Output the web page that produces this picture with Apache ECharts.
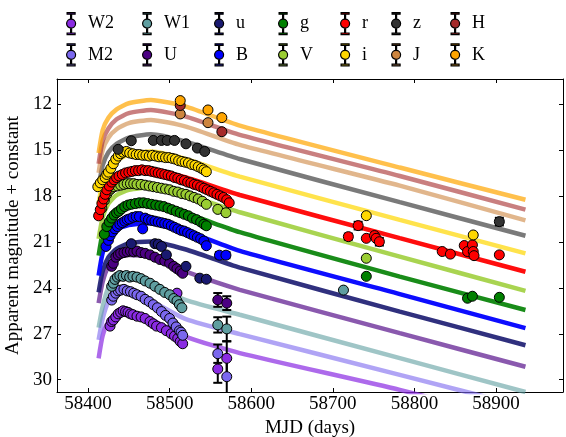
<!DOCTYPE html>
<html>
<head>
<meta charset="utf-8">
<script src="https://cdn.jsdelivr.net/npm/echarts@6/dist/echarts.min.js"></script>
<style>
  html, body { margin: 0; padding: 0; background: #fff; }
  #main { width: 566px; height: 437px; }
</style>
</head>
<body>
<div id="main"></div>
<script>
// bands in plotting order (last drawn on top)
const bands = ['W2', 'M2', 'W1', 'U', 'u', 'B', 'g', 'V', 'r', 'i', 'z', 'J', 'H', 'K']
const bandColors = {
  W2: '#8a2be2', M2: '#7b68ee', W1: '#5f9ea0', U: '#4b0082', u: '#191970', B: '#0000ff', g: '#008000',
  V: '#9acd32', r: '#ff0000', i: '#ffd700', z: '#333333', J: '#cd853f', H: '#a52a2a', K: '#ffa500'
}
// legend columns (two rows)
const legendCols = [['W2', 'M2'], ['W1', 'U'], ['u', 'B'], ['g', 'V'], ['r', 'i'], ['z', 'J'], ['H', 'K']]

// axis ticks
const xTicks = [58400, 58500, 58600, 58700, 58800, 58900]
const yTicks = [12, 15, 18, 21, 24, 27, 30]

// model light curves: MJD grid and magnitudes per band
const modelDays = [58413, 58418, 58425, 58435, 58450, 58477, 58520, 58586, 58782, 58936]
const modelK = [15.2, 13.7, 12.9, 12.35, 11.95, 11.74, 12.17, 13.41, 16.15, 18.25]
const modelH = [15.9, 14.4, 13.6, 13.0, 12.6, 12.39, 12.83, 14.02, 16.70, 18.90]
const modelJ = [16.5, 15.0, 14.2, 13.65, 13.25, 13.04, 13.48, 14.67, 17.33, 19.60]
const modelz = [17.4, 16.0, 15.15, 14.6, 14.2, 13.98, 14.46, 15.59, 18.41, 20.60]
const modeli = [18.5, 17.1, 16.3, 15.7, 15.3, 15.11, 15.6, 16.74, 19.57, 21.75]
const modelr = [19.6, 18.3, 17.4, 16.85, 16.5, 16.31, 16.8, 17.94, 20.76, 22.95]
const modelV = [20.8, 19.4, 18.5, 17.95, 17.6, 17.44, 17.92, 19.07, 21.96, 24.20]
const modelg = [21.9, 20.4, 19.5, 19.0, 18.72, 18.62, 19.15, 20.37, 23.27, 25.45]
const modelB = [23.2, 21.7, 20.8, 20.2, 19.9, 19.78, 20.3, 21.59, 24.41, 26.63]
const modelu = [24.3, 22.9, 22.0, 21.45, 21.1, 20.97, 21.5, 22.68, 25.55, 27.75]
const modelU = [25.0, 23.6, 22.6, 22.05, 21.85, 22.0, 22.95, 24.13, 26.96, 29.15]
const modelW1 = [26.6, 25.2, 24.0, 23.45, 23.35, 23.75, 24.8, 25.76, 28.59, 30.80]
const modelM2 = [27.4, 26.0, 24.9, 24.35, 24.3, 24.85, 26.05, 27.02, 29.68, 31.78]
const modelW2 = [28.6, 27.1, 26.2, 25.7, 25.6, 26.05, 27.2, 28.26, 30.66, 32.77]

// observations: [MJD, mag, (error)]
const obsW2 = [[58427, 26.5], [58429, 26.2], [58431, 26.1], [58434, 25.9], [58437, 25.7], [58440, 25.6], [58443, 25.5],
  [58446, 25.55], [58449, 25.6], [58452, 25.7], [58455, 25.75], [58460, 25.85], [58465, 25.9], [58470, 26.0],
  [58476, 26.2], [58480, 26.35], [58484, 26.5], [58490, 26.6], [58496, 26.8], [58502, 27.0], [58506, 27.15],
  [58510, 27.3], [58513, 27.5], [58516, 27.65], [58509, 24.35], [58559, 29.3, 0.9], [58570, 28.6, 1.1]]
const obsM2 = [[58429, 24.8], [58431, 24.55], [58434, 24.35], [58437, 24.2], [58440, 24.15], [58444, 24.1],
  [58448, 24.2], [58452, 24.25], [58456, 24.35], [58460, 24.45], [58465, 24.55], [58470, 24.75], [58475, 24.9],
  [58480, 25.1], [58485, 25.3], [58490, 25.55], [58495, 25.8], [58500, 26.0], [58504, 26.3], [58508, 26.55],
  [58512, 26.8], [58514, 26.9], [58516, 27.1], [58559, 28.3, 0.6], [58570, 29.8, 1.2]]
const obsW1 = [[58429, 23.9], [58431, 23.7], [58433, 23.45], [58436, 23.3], [58439, 23.2], [58443, 23.25],
  [58447, 23.2], [58451, 23.3], [58455, 23.25], [58460, 23.3], [58465, 23.4], [58470, 23.55], [58476, 23.7],
  [58482, 23.9], [58488, 24.1], [58494, 24.3], [58500, 24.45], [58505, 24.7], [58509, 24.85], [58512, 25.1],
  [58515, 25.3], [58559, 26.42, 0.5], [58570, 26.68, 0.8], [58713, 24.15]]
const obsU = [[58429, 22.6], [58431, 22.4], [58434, 22.0], [58437, 21.85], [58440, 21.75], [58444, 21.7],
  [58448, 21.65], [58452, 21.6], [58456, 21.65], [58460, 21.6], [58465, 21.7], [58470, 21.75], [58476, 21.85],
  [58482, 22.0], [58488, 22.15], [58494, 22.25], [58500, 22.4], [58505, 22.6], [58509, 22.75], [58513, 22.9],
  [58516, 23.05], [58559, 24.79, 0.45], [58570, 25.0, 0.45]]
const obsu = [[58453, 21.12], [58482, 21.12], [58486, 21.15], [58490, 21.3], [58496, 21.85], [58520, 22.6],
  [58537, 23.37], [58545, 23.44]]
const obsB = [[58422, 21.3], [58425, 20.9], [58427, 20.6], [58430, 20.35], [58433, 20.15], [58436, 20.0],
  [58439, 19.85], [58442, 19.75], [58445, 19.65], [58448, 19.55], [58451, 19.5], [58455, 19.4], [58459, 19.35],
  [58463, 19.35], [58467, 20.15], [58470, 19.45], [58474, 19.55], [58478, 19.6], [58482, 19.65], [58486, 19.7],
  [58490, 19.75], [58494, 19.8], [58498, 19.85], [58502, 19.95], [58506, 20.05], [58510, 20.15], [58514, 20.25],
  [58518, 20.3], [58522, 20.4], [58526, 20.5], [58530, 20.6], [58534, 20.7], [58538, 20.8], [58542, 20.95],
  [58545, 21.25], [58561, 21.87, 0.2], [58569, 21.87, 0.2]]
const obsg = [[58420, 20.5], [58423, 20.0], [58426, 19.7], [58429, 19.45], [58432, 19.25], [58435, 19.1],
  [58438, 19.0], [58441, 18.85], [58445, 18.7], [58449, 18.6], [58453, 18.55], [58458, 18.5], [58463, 18.45],
  [58468, 18.45], [58473, 18.5], [58478, 18.55], [58483, 18.6], [58488, 18.65], [58493, 18.7], [58498, 18.8],
  [58503, 18.9], [58508, 19.0], [58513, 19.1], [58518, 19.2], [58523, 19.3], [58528, 19.45], [58533, 19.55],
  [58538, 19.7], [58542, 19.85], [58545, 19.95], [58741, 23.25], [58865, 24.68], [58871, 24.55], [58904, 24.62]]
const obsV = [[58417, 18.8], [58420, 18.3], [58423, 17.9], [58426, 17.65], [58429, 17.5], [58432, 17.4],
  [58436, 17.35], [58440, 17.3], [58444, 17.25], [58448, 17.2], [58452, 17.2], [58456, 17.2], [58460, 17.25],
  [58465, 17.25], [58470, 17.3], [58475, 17.35], [58480, 17.4], [58485, 17.45], [58490, 17.5], [58495, 17.55],
  [58500, 17.6], [58505, 17.7], [58510, 17.75], [58515, 17.85], [58520, 17.9], [58525, 18.0], [58530, 18.1],
  [58535, 18.2], [58540, 18.35], [58545, 18.55], [58559, 18.88], [58569, 19.1, 0.15], [58741, 22.07]]
const obsr = [[58413, 19.3, 0.15], [58415, 18.9], [58417, 18.5], [58419, 18.2], [58421, 17.9], [58423, 17.6],
  [58426, 17.35], [58429, 17.1], [58432, 16.95], [58435, 16.8], [58438, 16.7], [58442, 16.6], [58446, 16.5],
  [58450, 16.45], [58454, 16.4], [58458, 16.35], [58462, 16.35], [58466, 16.3], [58470, 16.35], [58474, 16.35],
  [58478, 16.4], [58482, 16.45], [58486, 16.5], [58490, 16.55], [58494, 16.6], [58498, 16.65], [58502, 16.7],
  [58506, 16.8], [58510, 16.85], [58514, 16.95], [58518, 17.0], [58522, 17.1], [58526, 17.15], [58530, 17.25],
  [58534, 17.3], [58538, 17.4], [58542, 17.5], [58546, 17.6], [58550, 17.7], [58554, 17.8], [58558, 17.9],
  [58562, 18.0], [58566, 18.1], [58570, 18.25], [58573, 18.45],
  [58719, 20.66, 0.2], [58731, 19.94, 0.25], [58741, 20.77], [58751, 20.59], [58753, 20.77], [58757, 20.99, 0.25],
  [58834, 21.63], [58844, 21.8], [58861, 21.24], [58865, 21.63], [58871, 21.2], [58872, 21.63], [58873, 21.9],
  [58904, 21.85]]
const obsi = [[58412, 17.4], [58415, 17.15], [58418, 16.95], [58421, 16.8], [58423, 16.6], [58425, 16.45],
  [58428, 16.2], [58431, 15.9], [58434, 15.6], [58437, 15.4], [58440, 15.25], [58443, 15.15], [58447, 15.1],
  [58451, 15.2], [58455, 15.25], [58459, 15.3], [58463, 15.3], [58467, 15.35], [58471, 15.35], [58475, 15.4],
  [58479, 15.35], [58483, 15.4], [58487, 15.45], [58491, 15.45], [58495, 15.5], [58499, 15.5], [58503, 15.55],
  [58507, 15.6], [58511, 15.7], [58515, 15.75], [58519, 15.8], [58523, 15.85], [58527, 15.95], [58531, 16.0],
  [58535, 16.1], [58539, 16.2], [58542, 16.3], [58545, 16.42], [58741, 19.29], [58872, 20.55]]
const obsz = [[58437, 14.96], [58453, 14.4], [58480, 14.38], [58490, 14.38], [58497, 14.38], [58506, 14.38],
  [58520, 14.6], [58534, 14.88], [58543, 15.1], [58904, 19.68, 0.25]]
const obsJ = [[58513, 12.65], [58547, 13.22]]
const obsH = [[58513, 12.1], [58564, 13.81]]
const obsK = [[58513, 11.78], [58547, 12.39], [58564, 12.89]]

const models = { W2: modelW2, M2: modelM2, W1: modelW1, U: modelU, u: modelu, B: modelB, g: modelg,
  V: modelV, r: modelr, i: modeli, z: modelz, J: modelJ, H: modelH, K: modelK }
const observations = { W2: obsW2, M2: obsM2, W1: obsW1, U: obsU, u: obsu, B: obsB, g: obsg,
  V: obsV, r: obsr, i: obsi, z: obsz, J: obsJ, H: obsH, K: obsK }
// opacity of the model bundles
const lineOpacity = { W2: 0.7, M2: 0.6, W1: 0.6, U: 0.65, u: 0.9, B: 0.95, g: 0.9,
  V: 0.85, r: 0.95, i: 0.7, z: 0.65, J: 0.6, H: 0.6, K: 0.7 }

const FONT = 'Liberation Serif'
// circle with an error bar, as in the legend
const errIcon = 'path://M1,0H9V1.6H5.5V6.4H4.5V1.6H1Z M1,22H9V20.4H5.5V15.6H4.5V20.4H1Z ' +
  'M0.5,11A4.5,4.5,0,1,1,9.5,11A4.5,4.5,0,1,1,0.5,11Z'

const myChart = echarts.init(document.getElementById('main'), null, { renderer: 'canvas' })

const initEcharts = () => {
  const series = []
  // model lines
  bands.forEach((b) => {
    series.push({
      name: b + ' model',
      type: 'line',
      data: modelDays.map((d, k) => [d, models[b][k]]),
      showSymbol: false,
      smooth: 0.2,
      silent: true,
      z: 1,
      lineStyle: { color: bandColors[b], width: 4.5, opacity: lineOpacity[b] }
    })
  })
  // error bars
  const errData = []
  bands.forEach((b) => {
    observations[b].forEach((p) => {
      if (p.length > 2) errData.push(p)
    })
  })
  series.push({
    name: 'errors',
    type: 'custom',
    silent: true,
    clip: true,
    z: 2,
    data: errData,
    renderItem: (params, api) => {
      const x = api.value(0)
      const y = api.value(1)
      const e = api.value(2)
      const top = api.coord([x, y - e])
      const bot = api.coord([x, y + e])
      const st = { stroke: '#000', lineWidth: 2 }
      return {
        type: 'group',
        children: [
          { type: 'line', shape: { x1: top[0], y1: top[1], x2: bot[0], y2: bot[1] }, style: st },
          { type: 'line', shape: { x1: top[0] - 4.5, y1: top[1], x2: top[0] + 4.5, y2: top[1] }, style: st },
          { type: 'line', shape: { x1: bot[0] - 4.5, y1: bot[1], x2: bot[0] + 4.5, y2: bot[1] }, style: st }
        ]
      }
    }
  })
  // observations
  bands.forEach((b) => {
    series.push({
      name: b,
      type: 'scatter',
      data: observations[b].map((p) => [p[0], p[1]]),
      symbol: 'circle',
      symbolSize: 10,
      z: 3,
      itemStyle: { color: bandColors[b], borderColor: '#000', borderWidth: 1, opacity: 1 }
    })
  })

  const colX = [71, 147, 219, 283, 345, 396, 455]
  const legend = legendCols.map((col, k) => ({
    orient: 'vertical',
    left: colX[k] - 5,
    top: 12,
    itemWidth: 10,
    itemHeight: 22,
    itemGap: 8,
    padding: 0,
    icon: errIcon,
    selectedMode: false,
    data: col,
    itemStyle: { borderColor: '#000', borderWidth: 1.2 },
    textStyle: { fontFamily: FONT, fontSize: 18, color: '#000', padding: [0, 0, 0, 7] }
  }))

  const axisCommon = {
    type: 'value',
    splitLine: { show: false },
    axisLine: { show: true, onZero: false, lineStyle: { color: '#000', width: 1 } }
  }

  const option = {
    animation: false,
    backgroundColor: '#fff',
    legend: legend,
    grid: { left: 57, right: 3, top: 79, bottom: 45, outerBoundsMode: 'none' },
    xAxis: [
      {
        ...axisCommon,
        position: 'bottom',
        min: 58362,
        max: 58982,
        axisTick: { inside: true, length: 4, customValues: xTicks, lineStyle: { color: '#000' } },
        axisLabel: {
          customValues: xTicks,
          formatter: (v) => String(v),
          fontFamily: FONT,
          fontSize: 19,
          color: '#000',
          margin: 3
        },
        name: 'MJD (days)',
        nameLocation: 'middle',
        nameGap: 26,
        nameTextStyle: { fontFamily: FONT, fontSize: 19, color: '#000' }
      },
      {
        ...axisCommon,
        position: 'top',
        min: 58362,
        max: 58982,
        axisTick: { inside: true, length: 4, customValues: xTicks, lineStyle: { color: '#000' } },
        axisLabel: { show: false }
      }
    ],
    yAxis: [
      {
        ...axisCommon,
        position: 'left',
        inverse: true,
        min: 10.37,
        max: 30.8,
        axisTick: { inside: true, length: 4, customValues: yTicks, lineStyle: { color: '#000' } },
        axisLabel: { customValues: yTicks, fontFamily: FONT, fontSize: 19, color: '#000', margin: 5 },
        name: 'Apparent magnitude + constant',
        nameLocation: 'middle',
        nameGap: 28,
        nameTextStyle: { fontFamily: FONT, fontSize: 19, color: '#000' }
      },
      {
        ...axisCommon,
        position: 'right',
        inverse: true,
        min: 10.37,
        max: 30.8,
        axisTick: { inside: true, length: 4, customValues: yTicks, lineStyle: { color: '#000' } },
        axisLabel: { show: false }
      }
    ],
    series: series
  }
  myChart.setOption(option)
}

initEcharts()
</script>
</body>
</html>
